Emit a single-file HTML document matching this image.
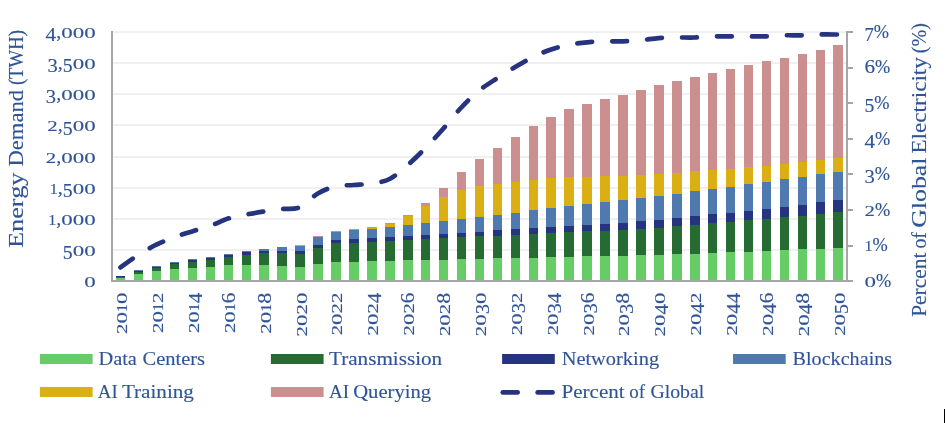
<!DOCTYPE html>
<html><head><meta charset="utf-8"><title>Energy Demand</title>
<style>
html,body{margin:0;padding:0;background:#fff;}
body{width:945px;height:423px;overflow:hidden;position:relative;font-family:"Liberation Serif",serif;}
svg{position:absolute;left:0;top:0;will-change:transform;}
text{font-family:"Liberation Serif",serif;fill:#2f5496;stroke:#2f5496;stroke-width:0.12px;}
text.n{stroke-width:0.15px;}
</style></head><body>
<svg width="945" height="423" viewBox="0 0 945 423">
<rect x="0" y="0" width="945" height="423" fill="#ffffff"/>

<rect x="112" y="249" width="735" height="2" fill="#f0f0f0"/>
<rect x="112" y="218" width="735" height="2" fill="#f0f0f0"/>
<rect x="112" y="187" width="735" height="2" fill="#f0f0f0"/>
<rect x="112" y="156" width="735" height="2" fill="#f0f0f0"/>
<rect x="112" y="124" width="735" height="2" fill="#f0f0f0"/>
<rect x="112" y="93" width="735" height="2" fill="#f0f0f0"/>
<rect x="112" y="62" width="735" height="2" fill="#f0f0f0"/>
<rect x="112" y="31" width="735" height="2" fill="#f0f0f0"/>
<rect x="116.00" y="278.00" width="9.00" height="3.00" fill="#66cc66"/>
<rect x="116.00" y="277.00" width="9.00" height="1.00" fill="#266b32"/>
<rect x="116.00" y="276.00" width="9.00" height="1.00" fill="#263480"/>
<rect x="134.00" y="274.00" width="9.00" height="7.00" fill="#66cc66"/>
<rect x="134.00" y="272.00" width="9.00" height="2.00" fill="#266b32"/>
<rect x="134.00" y="271.00" width="9.00" height="1.00" fill="#263480"/>
<rect x="134.00" y="270.00" width="9.00" height="1.00" fill="#4f7ab0"/>
<rect x="152.00" y="271.00" width="9.00" height="10.00" fill="#66cc66"/>
<rect x="152.00" y="268.00" width="9.00" height="3.00" fill="#266b32"/>
<rect x="152.00" y="267.00" width="9.00" height="1.00" fill="#263480"/>
<rect x="152.00" y="266.00" width="9.00" height="1.00" fill="#4f7ab0"/>
<rect x="170.00" y="269.00" width="9.00" height="12.00" fill="#66cc66"/>
<rect x="170.00" y="264.00" width="9.00" height="5.00" fill="#266b32"/>
<rect x="170.00" y="263.00" width="9.00" height="1.00" fill="#263480"/>
<rect x="170.00" y="262.00" width="9.00" height="1.00" fill="#4f7ab0"/>
<rect x="188.00" y="268.00" width="9.00" height="13.00" fill="#66cc66"/>
<rect x="188.00" y="262.00" width="9.00" height="6.00" fill="#266b32"/>
<rect x="188.00" y="260.00" width="9.00" height="2.00" fill="#263480"/>
<rect x="188.00" y="259.00" width="9.00" height="1.00" fill="#4f7ab0"/>
<rect x="206.00" y="267.00" width="9.00" height="14.00" fill="#66cc66"/>
<rect x="206.00" y="260.00" width="9.00" height="7.00" fill="#266b32"/>
<rect x="206.00" y="258.00" width="9.00" height="2.00" fill="#263480"/>
<rect x="206.00" y="257.00" width="9.00" height="1.00" fill="#4f7ab0"/>
<rect x="224.00" y="265.00" width="9.00" height="16.00" fill="#66cc66"/>
<rect x="224.00" y="257.00" width="9.00" height="8.00" fill="#266b32"/>
<rect x="224.00" y="255.00" width="9.00" height="2.00" fill="#263480"/>
<rect x="224.00" y="254.00" width="9.00" height="1.00" fill="#4f7ab0"/>
<rect x="242.00" y="265.00" width="9.00" height="16.00" fill="#66cc66"/>
<rect x="242.00" y="255.00" width="9.00" height="10.00" fill="#266b32"/>
<rect x="242.00" y="252.00" width="9.00" height="3.00" fill="#263480"/>
<rect x="242.00" y="251.00" width="9.00" height="1.00" fill="#4f7ab0"/>
<rect x="259.00" y="265.00" width="10.00" height="16.00" fill="#66cc66"/>
<rect x="259.00" y="253.00" width="10.00" height="12.00" fill="#266b32"/>
<rect x="259.00" y="251.00" width="10.00" height="2.00" fill="#263480"/>
<rect x="259.00" y="249.00" width="10.00" height="2.00" fill="#4f7ab0"/>
<rect x="277.00" y="266.00" width="10.00" height="15.00" fill="#66cc66"/>
<rect x="277.00" y="253.00" width="10.00" height="13.00" fill="#266b32"/>
<rect x="277.00" y="251.00" width="10.00" height="2.00" fill="#263480"/>
<rect x="277.00" y="247.00" width="10.00" height="4.00" fill="#4f7ab0"/>
<rect x="295.00" y="267.00" width="10.00" height="14.00" fill="#66cc66"/>
<rect x="295.00" y="254.00" width="10.00" height="13.00" fill="#266b32"/>
<rect x="295.00" y="251.00" width="10.00" height="3.00" fill="#263480"/>
<rect x="295.00" y="246.00" width="10.00" height="5.00" fill="#4f7ab0"/>
<rect x="295.00" y="245.00" width="10.00" height="1.00" fill="#daaf14"/>
<rect x="313.00" y="264.00" width="10.00" height="17.00" fill="#66cc66"/>
<rect x="313.00" y="248.00" width="10.00" height="16.00" fill="#266b32"/>
<rect x="313.00" y="245.00" width="10.00" height="3.00" fill="#263480"/>
<rect x="313.00" y="237.00" width="10.00" height="8.00" fill="#4f7ab0"/>
<rect x="313.00" y="236.00" width="10.00" height="1.00" fill="#cb8f8f"/>
<rect x="331.00" y="262.00" width="10.00" height="19.00" fill="#66cc66"/>
<rect x="331.00" y="243.00" width="10.00" height="19.00" fill="#266b32"/>
<rect x="331.00" y="240.00" width="10.00" height="3.00" fill="#263480"/>
<rect x="331.00" y="232.00" width="10.00" height="8.00" fill="#4f7ab0"/>
<rect x="331.00" y="231.00" width="10.00" height="1.00" fill="#cb8f8f"/>
<rect x="349.00" y="262.00" width="10.00" height="19.00" fill="#66cc66"/>
<rect x="349.00" y="243.00" width="10.00" height="19.00" fill="#266b32"/>
<rect x="349.00" y="239.00" width="10.00" height="4.00" fill="#263480"/>
<rect x="349.00" y="230.00" width="10.00" height="9.00" fill="#4f7ab0"/>
<rect x="349.00" y="229.00" width="10.00" height="1.00" fill="#cb8f8f"/>
<rect x="367.00" y="261.00" width="10.00" height="20.00" fill="#66cc66"/>
<rect x="367.00" y="242.00" width="10.00" height="19.00" fill="#266b32"/>
<rect x="367.00" y="238.00" width="10.00" height="4.00" fill="#263480"/>
<rect x="367.00" y="229.00" width="10.00" height="9.00" fill="#4f7ab0"/>
<rect x="367.00" y="228.00" width="10.00" height="1.00" fill="#daaf14"/>
<rect x="367.00" y="227.00" width="10.00" height="1.00" fill="#cb8f8f"/>
<rect x="385.00" y="261.00" width="10.00" height="20.00" fill="#66cc66"/>
<rect x="385.00" y="241.00" width="10.00" height="20.00" fill="#266b32"/>
<rect x="385.00" y="237.00" width="10.00" height="4.00" fill="#263480"/>
<rect x="385.00" y="227.00" width="10.00" height="10.00" fill="#4f7ab0"/>
<rect x="385.00" y="224.00" width="10.00" height="3.00" fill="#daaf14"/>
<rect x="385.00" y="223.00" width="10.00" height="1.00" fill="#cb8f8f"/>
<rect x="403.00" y="260.00" width="10.00" height="21.00" fill="#66cc66"/>
<rect x="403.00" y="240.00" width="10.00" height="20.00" fill="#266b32"/>
<rect x="403.00" y="236.00" width="10.00" height="4.00" fill="#263480"/>
<rect x="403.00" y="225.00" width="10.00" height="11.00" fill="#4f7ab0"/>
<rect x="403.00" y="216.00" width="10.00" height="9.00" fill="#daaf14"/>
<rect x="403.00" y="215.00" width="10.00" height="1.00" fill="#cb8f8f"/>
<rect x="421.00" y="260.00" width="9.00" height="21.00" fill="#66cc66"/>
<rect x="421.00" y="239.00" width="9.00" height="21.00" fill="#266b32"/>
<rect x="421.00" y="235.00" width="9.00" height="4.00" fill="#263480"/>
<rect x="421.00" y="223.00" width="9.00" height="12.00" fill="#4f7ab0"/>
<rect x="421.00" y="206.00" width="9.00" height="17.00" fill="#daaf14"/>
<rect x="421.00" y="203.00" width="9.00" height="3.00" fill="#cb8f8f"/>
<rect x="439.00" y="260.00" width="9.00" height="21.00" fill="#66cc66"/>
<rect x="439.00" y="238.00" width="9.00" height="22.00" fill="#266b32"/>
<rect x="439.00" y="234.00" width="9.00" height="4.00" fill="#263480"/>
<rect x="439.00" y="221.00" width="9.00" height="13.00" fill="#4f7ab0"/>
<rect x="439.00" y="197.00" width="9.00" height="24.00" fill="#daaf14"/>
<rect x="439.00" y="188.00" width="9.00" height="9.00" fill="#cb8f8f"/>
<rect x="457.00" y="259.00" width="9.00" height="22.00" fill="#66cc66"/>
<rect x="457.00" y="237.00" width="9.00" height="22.00" fill="#266b32"/>
<rect x="457.00" y="233.00" width="9.00" height="4.00" fill="#263480"/>
<rect x="457.00" y="219.00" width="9.00" height="14.00" fill="#4f7ab0"/>
<rect x="457.00" y="190.00" width="9.00" height="29.00" fill="#daaf14"/>
<rect x="457.00" y="172.00" width="9.00" height="18.00" fill="#cb8f8f"/>
<rect x="475.00" y="259.00" width="9.00" height="22.00" fill="#66cc66"/>
<rect x="475.00" y="236.00" width="9.00" height="23.00" fill="#266b32"/>
<rect x="475.00" y="232.00" width="9.00" height="4.00" fill="#263480"/>
<rect x="475.00" y="217.00" width="9.00" height="15.00" fill="#4f7ab0"/>
<rect x="475.00" y="186.00" width="9.00" height="31.00" fill="#daaf14"/>
<rect x="475.00" y="159.00" width="9.00" height="27.00" fill="#cb8f8f"/>
<rect x="493.00" y="258.00" width="9.00" height="23.00" fill="#66cc66"/>
<rect x="493.00" y="236.00" width="9.00" height="22.00" fill="#266b32"/>
<rect x="493.00" y="230.00" width="9.00" height="6.00" fill="#263480"/>
<rect x="493.00" y="215.00" width="9.00" height="15.00" fill="#4f7ab0"/>
<rect x="493.00" y="184.00" width="9.00" height="31.00" fill="#daaf14"/>
<rect x="493.00" y="148.00" width="9.00" height="36.00" fill="#cb8f8f"/>
<rect x="511.00" y="258.00" width="9.00" height="23.00" fill="#66cc66"/>
<rect x="511.00" y="235.00" width="9.00" height="23.00" fill="#266b32"/>
<rect x="511.00" y="229.00" width="9.00" height="6.00" fill="#263480"/>
<rect x="511.00" y="213.00" width="9.00" height="16.00" fill="#4f7ab0"/>
<rect x="511.00" y="182.00" width="9.00" height="31.00" fill="#daaf14"/>
<rect x="511.00" y="137.00" width="9.00" height="45.00" fill="#cb8f8f"/>
<rect x="529.00" y="258.00" width="9.00" height="23.00" fill="#66cc66"/>
<rect x="529.00" y="234.00" width="9.00" height="24.00" fill="#266b32"/>
<rect x="529.00" y="228.00" width="9.00" height="6.00" fill="#263480"/>
<rect x="529.00" y="210.00" width="9.00" height="18.00" fill="#4f7ab0"/>
<rect x="529.00" y="180.00" width="9.00" height="30.00" fill="#daaf14"/>
<rect x="529.00" y="126.00" width="9.00" height="54.00" fill="#cb8f8f"/>
<rect x="546.00" y="257.00" width="10.00" height="24.00" fill="#66cc66"/>
<rect x="546.00" y="233.00" width="10.00" height="24.00" fill="#266b32"/>
<rect x="546.00" y="227.00" width="10.00" height="6.00" fill="#263480"/>
<rect x="546.00" y="208.00" width="10.00" height="19.00" fill="#4f7ab0"/>
<rect x="546.00" y="178.00" width="10.00" height="30.00" fill="#daaf14"/>
<rect x="546.00" y="117.00" width="10.00" height="61.00" fill="#cb8f8f"/>
<rect x="564.00" y="257.00" width="10.00" height="24.00" fill="#66cc66"/>
<rect x="564.00" y="232.00" width="10.00" height="25.00" fill="#266b32"/>
<rect x="564.00" y="226.00" width="10.00" height="6.00" fill="#263480"/>
<rect x="564.00" y="206.00" width="10.00" height="20.00" fill="#4f7ab0"/>
<rect x="564.00" y="177.00" width="10.00" height="29.00" fill="#daaf14"/>
<rect x="564.00" y="109.00" width="10.00" height="68.00" fill="#cb8f8f"/>
<rect x="582.00" y="256.00" width="10.00" height="25.00" fill="#66cc66"/>
<rect x="582.00" y="231.00" width="10.00" height="25.00" fill="#266b32"/>
<rect x="582.00" y="225.00" width="10.00" height="6.00" fill="#263480"/>
<rect x="582.00" y="204.00" width="10.00" height="21.00" fill="#4f7ab0"/>
<rect x="582.00" y="177.00" width="10.00" height="27.00" fill="#daaf14"/>
<rect x="582.00" y="104.00" width="10.00" height="73.00" fill="#cb8f8f"/>
<rect x="600.00" y="256.00" width="10.00" height="25.00" fill="#66cc66"/>
<rect x="600.00" y="231.00" width="10.00" height="25.00" fill="#266b32"/>
<rect x="600.00" y="224.00" width="10.00" height="7.00" fill="#263480"/>
<rect x="600.00" y="202.00" width="10.00" height="22.00" fill="#4f7ab0"/>
<rect x="600.00" y="176.00" width="10.00" height="26.00" fill="#daaf14"/>
<rect x="600.00" y="99.00" width="10.00" height="77.00" fill="#cb8f8f"/>
<rect x="618.00" y="256.00" width="10.00" height="25.00" fill="#66cc66"/>
<rect x="618.00" y="230.00" width="10.00" height="26.00" fill="#266b32"/>
<rect x="618.00" y="223.00" width="10.00" height="7.00" fill="#263480"/>
<rect x="618.00" y="200.00" width="10.00" height="23.00" fill="#4f7ab0"/>
<rect x="618.00" y="176.00" width="10.00" height="24.00" fill="#daaf14"/>
<rect x="618.00" y="95.00" width="10.00" height="81.00" fill="#cb8f8f"/>
<rect x="636.00" y="255.00" width="10.00" height="26.00" fill="#66cc66"/>
<rect x="636.00" y="229.00" width="10.00" height="26.00" fill="#266b32"/>
<rect x="636.00" y="221.00" width="10.00" height="8.00" fill="#263480"/>
<rect x="636.00" y="198.00" width="10.00" height="23.00" fill="#4f7ab0"/>
<rect x="636.00" y="175.00" width="10.00" height="23.00" fill="#daaf14"/>
<rect x="636.00" y="90.00" width="10.00" height="85.00" fill="#cb8f8f"/>
<rect x="654.00" y="255.00" width="10.00" height="26.00" fill="#66cc66"/>
<rect x="654.00" y="228.00" width="10.00" height="27.00" fill="#266b32"/>
<rect x="654.00" y="220.00" width="10.00" height="8.00" fill="#263480"/>
<rect x="654.00" y="196.00" width="10.00" height="24.00" fill="#4f7ab0"/>
<rect x="654.00" y="174.00" width="10.00" height="22.00" fill="#daaf14"/>
<rect x="654.00" y="85.00" width="10.00" height="89.00" fill="#cb8f8f"/>
<rect x="672.00" y="254.00" width="10.00" height="27.00" fill="#66cc66"/>
<rect x="672.00" y="226.00" width="10.00" height="28.00" fill="#266b32"/>
<rect x="672.00" y="218.00" width="10.00" height="8.00" fill="#263480"/>
<rect x="672.00" y="194.00" width="10.00" height="24.00" fill="#4f7ab0"/>
<rect x="672.00" y="173.00" width="10.00" height="21.00" fill="#daaf14"/>
<rect x="672.00" y="81.00" width="10.00" height="92.00" fill="#cb8f8f"/>
<rect x="690.00" y="254.00" width="10.00" height="27.00" fill="#66cc66"/>
<rect x="690.00" y="225.00" width="10.00" height="29.00" fill="#266b32"/>
<rect x="690.00" y="216.00" width="10.00" height="9.00" fill="#263480"/>
<rect x="690.00" y="191.00" width="10.00" height="25.00" fill="#4f7ab0"/>
<rect x="690.00" y="171.00" width="10.00" height="20.00" fill="#daaf14"/>
<rect x="690.00" y="77.00" width="10.00" height="94.00" fill="#cb8f8f"/>
<rect x="708.00" y="253.00" width="9.00" height="28.00" fill="#66cc66"/>
<rect x="708.00" y="223.00" width="9.00" height="30.00" fill="#266b32"/>
<rect x="708.00" y="214.00" width="9.00" height="9.00" fill="#263480"/>
<rect x="708.00" y="189.00" width="9.00" height="25.00" fill="#4f7ab0"/>
<rect x="708.00" y="170.00" width="9.00" height="19.00" fill="#daaf14"/>
<rect x="708.00" y="73.00" width="9.00" height="97.00" fill="#cb8f8f"/>
<rect x="726.00" y="252.00" width="9.00" height="29.00" fill="#66cc66"/>
<rect x="726.00" y="222.00" width="9.00" height="30.00" fill="#266b32"/>
<rect x="726.00" y="213.00" width="9.00" height="9.00" fill="#263480"/>
<rect x="726.00" y="187.00" width="9.00" height="26.00" fill="#4f7ab0"/>
<rect x="726.00" y="169.00" width="9.00" height="18.00" fill="#daaf14"/>
<rect x="726.00" y="69.00" width="9.00" height="100.00" fill="#cb8f8f"/>
<rect x="744.00" y="252.00" width="9.00" height="29.00" fill="#66cc66"/>
<rect x="744.00" y="220.00" width="9.00" height="32.00" fill="#266b32"/>
<rect x="744.00" y="211.00" width="9.00" height="9.00" fill="#263480"/>
<rect x="744.00" y="184.00" width="9.00" height="27.00" fill="#4f7ab0"/>
<rect x="744.00" y="167.00" width="9.00" height="17.00" fill="#daaf14"/>
<rect x="744.00" y="65.00" width="9.00" height="102.00" fill="#cb8f8f"/>
<rect x="762.00" y="251.00" width="9.00" height="30.00" fill="#66cc66"/>
<rect x="762.00" y="219.00" width="9.00" height="32.00" fill="#266b32"/>
<rect x="762.00" y="209.00" width="9.00" height="10.00" fill="#263480"/>
<rect x="762.00" y="182.00" width="9.00" height="27.00" fill="#4f7ab0"/>
<rect x="762.00" y="166.00" width="9.00" height="16.00" fill="#daaf14"/>
<rect x="762.00" y="61.00" width="9.00" height="105.00" fill="#cb8f8f"/>
<rect x="780.00" y="250.00" width="9.00" height="31.00" fill="#66cc66"/>
<rect x="780.00" y="217.00" width="9.00" height="33.00" fill="#266b32"/>
<rect x="780.00" y="207.00" width="9.00" height="10.00" fill="#263480"/>
<rect x="780.00" y="179.00" width="9.00" height="28.00" fill="#4f7ab0"/>
<rect x="780.00" y="164.00" width="9.00" height="15.00" fill="#daaf14"/>
<rect x="780.00" y="58.00" width="9.00" height="106.00" fill="#cb8f8f"/>
<rect x="798.00" y="249.00" width="9.00" height="32.00" fill="#66cc66"/>
<rect x="798.00" y="216.00" width="9.00" height="33.00" fill="#266b32"/>
<rect x="798.00" y="205.00" width="9.00" height="11.00" fill="#263480"/>
<rect x="798.00" y="177.00" width="9.00" height="28.00" fill="#4f7ab0"/>
<rect x="798.00" y="162.00" width="9.00" height="15.00" fill="#daaf14"/>
<rect x="798.00" y="54.00" width="9.00" height="108.00" fill="#cb8f8f"/>
<rect x="816.00" y="249.00" width="9.00" height="32.00" fill="#66cc66"/>
<rect x="816.00" y="214.00" width="9.00" height="35.00" fill="#266b32"/>
<rect x="816.00" y="202.00" width="9.00" height="12.00" fill="#263480"/>
<rect x="816.00" y="174.00" width="9.00" height="28.00" fill="#4f7ab0"/>
<rect x="816.00" y="160.00" width="9.00" height="14.00" fill="#daaf14"/>
<rect x="816.00" y="50.00" width="9.00" height="110.00" fill="#cb8f8f"/>
<rect x="833.00" y="248.00" width="10.00" height="33.00" fill="#66cc66"/>
<rect x="833.00" y="212.00" width="10.00" height="36.00" fill="#266b32"/>
<rect x="833.00" y="200.00" width="10.00" height="12.00" fill="#263480"/>
<rect x="833.00" y="172.00" width="10.00" height="28.00" fill="#4f7ab0"/>
<rect x="833.00" y="158.00" width="10.00" height="14.00" fill="#daaf14"/>
<rect x="833.00" y="45.00" width="10.00" height="113.00" fill="#cb8f8f"/>
<rect x="111" y="31" width="2" height="251" fill="#a6a6a6"/>
<rect x="111" y="280" width="737" height="2" fill="#a6a6a6"/>
<rect x="846" y="31" width="2" height="251" fill="#a6a6a6"/>
<rect x="846" y="280" width="7" height="2" fill="#a6a6a6"/>
<rect x="846" y="245" width="7" height="2" fill="#a6a6a6"/>
<rect x="846" y="209" width="7" height="2" fill="#a6a6a6"/>
<rect x="846" y="173" width="7" height="2" fill="#a6a6a6"/>
<rect x="846" y="138" width="7" height="2" fill="#a6a6a6"/>
<rect x="846" y="102" width="7" height="2" fill="#a6a6a6"/>
<rect x="846" y="67" width="7" height="2" fill="#a6a6a6"/>
<rect x="846" y="31" width="7" height="2" fill="#a6a6a6"/>
<path d="M120.50,267.40 C123.49,265.30 132.46,258.58 138.44,254.80 C144.42,251.02 150.40,247.63 156.38,244.70 C162.36,241.77 168.34,239.42 174.32,237.20 C180.30,234.98 186.28,233.28 192.26,231.40 C198.24,229.52 204.22,228.03 210.20,225.90 C216.18,223.77 222.16,220.50 228.14,218.60 C234.12,216.70 240.10,215.68 246.08,214.50 C252.06,213.32 258.04,212.42 264.02,211.50 C270.00,210.58 275.98,209.72 281.96,209.00 C287.94,208.28 293.92,209.78 299.90,207.20 C305.88,204.62 311.86,196.98 317.84,193.50 C323.82,190.02 329.80,187.72 335.78,186.30 C341.76,184.88 347.74,185.47 353.72,185.00 C359.70,184.53 365.68,184.50 371.66,183.50 C377.64,182.50 383.62,182.05 389.60,179.00 C395.58,175.95 401.56,170.37 407.54,165.20 C413.52,160.03 419.50,154.12 425.48,148.00 C431.46,141.88 437.44,135.25 443.42,128.50 C449.40,121.75 455.38,113.85 461.36,107.50 C467.34,101.15 473.32,95.28 479.30,90.40 C485.28,85.52 491.26,82.08 497.24,78.20 C503.22,74.32 509.20,70.63 515.18,67.10 C521.16,63.57 527.14,59.95 533.12,57.00 C539.10,54.05 545.08,51.43 551.06,49.40 C557.04,47.37 563.02,45.98 569.00,44.80 C574.98,43.62 580.96,42.88 586.94,42.30 C592.92,41.72 598.90,41.52 604.88,41.35 C610.86,41.18 616.84,41.49 622.82,41.30 C628.80,41.11 634.78,40.73 640.76,40.20 C646.74,39.67 652.72,38.55 658.70,38.10 C664.68,37.65 670.66,37.60 676.64,37.50 C682.62,37.40 688.60,37.68 694.58,37.50 C700.56,37.32 706.54,36.58 712.52,36.40 C718.50,36.22 724.48,36.40 730.46,36.40 C736.44,36.40 742.42,36.42 748.40,36.40 C754.38,36.38 760.36,36.48 766.34,36.30 C772.32,36.12 778.30,35.47 784.28,35.30 C790.26,35.13 796.24,35.43 802.22,35.30 C808.20,35.17 814.18,34.63 820.16,34.50 C826.14,34.37 835.11,34.50 838.10,34.50" fill="none" stroke="#263480" stroke-width="4.7" stroke-linecap="round" stroke-linejoin="round" stroke-dasharray="14.8 20.18"/>
<text transform="translate(84.14,287.10) scale(1.228,0.806)" font-size="18.67" class="n">0</text>
<text transform="translate(62.82,259.06) scale(1.056,1.036)" font-size="18.67" class="n">5</text>
<text transform="translate(72.67,255.97) scale(1.228,0.806)" font-size="18.67" class="n">0</text>
<text transform="translate(84.14,255.97) scale(1.228,0.806)" font-size="18.67" class="n">0</text>
<text transform="translate(48.14,224.85) scale(0.860,0.806)" font-size="18.67" class="n">1</text>
<text transform="translate(56.17,224.85) scale(1.080,1.000)" font-size="18.67" class="n">,</text>
<text transform="translate(61.21,224.85) scale(1.228,0.806)" font-size="18.67" class="n">0</text>
<text transform="translate(72.67,224.85) scale(1.228,0.806)" font-size="18.67" class="n">0</text>
<text transform="translate(84.14,224.85) scale(1.228,0.806)" font-size="18.67" class="n">0</text>
<text transform="translate(49.75,193.72) scale(0.860,0.806)" font-size="18.67" class="n">1</text>
<text transform="translate(57.77,193.72) scale(1.080,1.000)" font-size="18.67" class="n">,</text>
<text transform="translate(62.82,196.81) scale(1.056,1.036)" font-size="18.67" class="n">5</text>
<text transform="translate(72.67,193.72) scale(1.228,0.806)" font-size="18.67" class="n">0</text>
<text transform="translate(84.14,193.72) scale(1.228,0.806)" font-size="18.67" class="n">0</text>
<text transform="translate(45.73,162.60) scale(1.118,0.806)" font-size="18.67" class="n">2</text>
<text transform="translate(56.17,162.60) scale(1.080,1.000)" font-size="18.67" class="n">,</text>
<text transform="translate(61.21,162.60) scale(1.228,0.806)" font-size="18.67" class="n">0</text>
<text transform="translate(72.67,162.60) scale(1.228,0.806)" font-size="18.67" class="n">0</text>
<text transform="translate(84.14,162.60) scale(1.228,0.806)" font-size="18.67" class="n">0</text>
<text transform="translate(47.34,131.47) scale(1.118,0.806)" font-size="18.67" class="n">2</text>
<text transform="translate(57.77,131.47) scale(1.080,1.000)" font-size="18.67" class="n">,</text>
<text transform="translate(62.82,134.56) scale(1.056,1.036)" font-size="18.67" class="n">5</text>
<text transform="translate(72.67,131.47) scale(1.228,0.806)" font-size="18.67" class="n">0</text>
<text transform="translate(84.14,131.47) scale(1.228,0.806)" font-size="18.67" class="n">0</text>
<text transform="translate(45.86,103.43) scale(1.104,1.036)" font-size="18.67" class="n">3</text>
<text transform="translate(56.17,100.35) scale(1.080,1.000)" font-size="18.67" class="n">,</text>
<text transform="translate(61.21,100.35) scale(1.228,0.806)" font-size="18.67" class="n">0</text>
<text transform="translate(72.67,100.35) scale(1.228,0.806)" font-size="18.67" class="n">0</text>
<text transform="translate(84.14,100.35) scale(1.228,0.806)" font-size="18.67" class="n">0</text>
<text transform="translate(47.47,72.31) scale(1.104,1.036)" font-size="18.67" class="n">3</text>
<text transform="translate(57.77,69.22) scale(1.080,1.000)" font-size="18.67" class="n">,</text>
<text transform="translate(62.82,72.31) scale(1.056,1.036)" font-size="18.67" class="n">5</text>
<text transform="translate(72.67,69.22) scale(1.228,0.806)" font-size="18.67" class="n">0</text>
<text transform="translate(84.14,69.22) scale(1.228,0.806)" font-size="18.67" class="n">0</text>
<text transform="translate(45.62,41.18) scale(1.130,1.036)" font-size="18.67" class="n">4</text>
<text transform="translate(56.17,38.10) scale(1.080,1.000)" font-size="18.67" class="n">,</text>
<text transform="translate(61.21,38.10) scale(1.228,0.806)" font-size="18.67" class="n">0</text>
<text transform="translate(72.67,38.10) scale(1.228,0.806)" font-size="18.67" class="n">0</text>
<text transform="translate(84.14,38.10) scale(1.228,0.806)" font-size="18.67" class="n">0</text>
<text transform="translate(864.50,286.90) scale(1.228,0.806)" font-size="18.67" class="n">0</text>
<text transform="translate(875.96,286.90) scale(0.981,1.040)" font-size="18.67" class="n">%</text>
<text transform="translate(864.50,251.33) scale(0.860,0.806)" font-size="18.67" class="n">1</text>
<text transform="translate(872.53,251.33) scale(0.981,1.040)" font-size="18.67" class="n">%</text>
<text transform="translate(864.50,215.76) scale(1.118,0.806)" font-size="18.67" class="n">2</text>
<text transform="translate(874.94,215.76) scale(0.981,1.040)" font-size="18.67" class="n">%</text>
<text transform="translate(864.50,183.27) scale(1.104,1.036)" font-size="18.67" class="n">3</text>
<text transform="translate(874.81,180.19) scale(0.981,1.040)" font-size="18.67" class="n">%</text>
<text transform="translate(864.50,147.70) scale(1.130,1.036)" font-size="18.67" class="n">4</text>
<text transform="translate(875.05,144.62) scale(0.981,1.040)" font-size="18.67" class="n">%</text>
<text transform="translate(864.50,112.13) scale(1.056,1.036)" font-size="18.67" class="n">5</text>
<text transform="translate(874.36,109.05) scale(0.981,1.040)" font-size="18.67" class="n">%</text>
<text transform="translate(864.50,73.48) scale(1.134,1.036)" font-size="18.67" class="n">6</text>
<text transform="translate(875.09,73.48) scale(0.981,1.040)" font-size="18.67" class="n">%</text>
<text transform="translate(864.50,40.99) scale(1.004,1.036)" font-size="18.67" class="n">7</text>
<text transform="translate(873.87,37.91) scale(0.981,1.040)" font-size="18.67" class="n">%</text>
<text transform="translate(127.10,333.99) rotate(-90) scale(1.118,0.806)" font-size="18.67" class="n">2</text>
<text transform="translate(127.10,323.55) rotate(-90) scale(1.228,0.806)" font-size="18.67" class="n">0</text>
<text transform="translate(127.10,312.09) rotate(-90) scale(0.860,0.806)" font-size="18.67" class="n">1</text>
<text transform="translate(127.10,304.06) rotate(-90) scale(1.228,0.806)" font-size="18.67" class="n">0</text>
<text transform="translate(162.98,332.96) rotate(-90) scale(1.118,0.806)" font-size="18.67" class="n">2</text>
<text transform="translate(162.98,322.53) rotate(-90) scale(1.228,0.806)" font-size="18.67" class="n">0</text>
<text transform="translate(162.98,311.06) rotate(-90) scale(0.860,0.806)" font-size="18.67" class="n">1</text>
<text transform="translate(162.98,303.04) rotate(-90) scale(1.118,0.806)" font-size="18.67" class="n">2</text>
<text transform="translate(198.86,333.08) rotate(-90) scale(1.118,0.806)" font-size="18.67" class="n">2</text>
<text transform="translate(198.86,322.64) rotate(-90) scale(1.228,0.806)" font-size="18.67" class="n">0</text>
<text transform="translate(198.86,311.18) rotate(-90) scale(0.860,0.806)" font-size="18.67" class="n">1</text>
<text transform="translate(201.94,303.15) rotate(-90) scale(1.130,1.036)" font-size="18.67" class="n">4</text>
<text transform="translate(234.74,333.11) rotate(-90) scale(1.118,0.806)" font-size="18.67" class="n">2</text>
<text transform="translate(234.74,322.68) rotate(-90) scale(1.228,0.806)" font-size="18.67" class="n">0</text>
<text transform="translate(234.74,311.21) rotate(-90) scale(0.860,0.806)" font-size="18.67" class="n">1</text>
<text transform="translate(234.74,303.19) rotate(-90) scale(1.134,1.036)" font-size="18.67" class="n">6</text>
<text transform="translate(270.62,333.66) rotate(-90) scale(1.118,0.806)" font-size="18.67" class="n">2</text>
<text transform="translate(270.62,323.22) rotate(-90) scale(1.228,0.806)" font-size="18.67" class="n">0</text>
<text transform="translate(270.62,311.76) rotate(-90) scale(0.860,0.806)" font-size="18.67" class="n">1</text>
<text transform="translate(270.62,303.73) rotate(-90) scale(1.192,1.036)" font-size="18.67" class="n">8</text>
<text transform="translate(306.50,336.40) rotate(-90) scale(1.118,0.806)" font-size="18.67" class="n">2</text>
<text transform="translate(306.50,325.96) rotate(-90) scale(1.228,0.806)" font-size="18.67" class="n">0</text>
<text transform="translate(306.50,314.50) rotate(-90) scale(1.118,0.806)" font-size="18.67" class="n">2</text>
<text transform="translate(306.50,304.06) rotate(-90) scale(1.228,0.806)" font-size="18.67" class="n">0</text>
<text transform="translate(342.38,335.37) rotate(-90) scale(1.118,0.806)" font-size="18.67" class="n">2</text>
<text transform="translate(342.38,324.94) rotate(-90) scale(1.228,0.806)" font-size="18.67" class="n">0</text>
<text transform="translate(342.38,313.47) rotate(-90) scale(1.118,0.806)" font-size="18.67" class="n">2</text>
<text transform="translate(342.38,303.04) rotate(-90) scale(1.118,0.806)" font-size="18.67" class="n">2</text>
<text transform="translate(378.26,335.48) rotate(-90) scale(1.118,0.806)" font-size="18.67" class="n">2</text>
<text transform="translate(378.26,325.05) rotate(-90) scale(1.228,0.806)" font-size="18.67" class="n">0</text>
<text transform="translate(378.26,313.59) rotate(-90) scale(1.118,0.806)" font-size="18.67" class="n">2</text>
<text transform="translate(381.34,303.15) rotate(-90) scale(1.130,1.036)" font-size="18.67" class="n">4</text>
<text transform="translate(414.14,335.52) rotate(-90) scale(1.118,0.806)" font-size="18.67" class="n">2</text>
<text transform="translate(414.14,325.09) rotate(-90) scale(1.228,0.806)" font-size="18.67" class="n">0</text>
<text transform="translate(414.14,313.62) rotate(-90) scale(1.118,0.806)" font-size="18.67" class="n">2</text>
<text transform="translate(414.14,303.19) rotate(-90) scale(1.134,1.036)" font-size="18.67" class="n">6</text>
<text transform="translate(450.02,336.06) rotate(-90) scale(1.118,0.806)" font-size="18.67" class="n">2</text>
<text transform="translate(450.02,325.63) rotate(-90) scale(1.228,0.806)" font-size="18.67" class="n">0</text>
<text transform="translate(450.02,314.16) rotate(-90) scale(1.118,0.806)" font-size="18.67" class="n">2</text>
<text transform="translate(450.02,303.73) rotate(-90) scale(1.192,1.036)" font-size="18.67" class="n">8</text>
<text transform="translate(485.90,336.27) rotate(-90) scale(1.118,0.806)" font-size="18.67" class="n">2</text>
<text transform="translate(485.90,325.83) rotate(-90) scale(1.228,0.806)" font-size="18.67" class="n">0</text>
<text transform="translate(488.98,314.37) rotate(-90) scale(1.104,1.036)" font-size="18.67" class="n">3</text>
<text transform="translate(485.90,304.06) rotate(-90) scale(1.228,0.806)" font-size="18.67" class="n">0</text>
<text transform="translate(521.78,335.24) rotate(-90) scale(1.118,0.806)" font-size="18.67" class="n">2</text>
<text transform="translate(521.78,324.81) rotate(-90) scale(1.228,0.806)" font-size="18.67" class="n">0</text>
<text transform="translate(524.86,313.34) rotate(-90) scale(1.104,1.036)" font-size="18.67" class="n">3</text>
<text transform="translate(521.78,303.04) rotate(-90) scale(1.118,0.806)" font-size="18.67" class="n">2</text>
<text transform="translate(557.66,335.35) rotate(-90) scale(1.118,0.806)" font-size="18.67" class="n">2</text>
<text transform="translate(557.66,324.92) rotate(-90) scale(1.228,0.806)" font-size="18.67" class="n">0</text>
<text transform="translate(560.74,313.45) rotate(-90) scale(1.104,1.036)" font-size="18.67" class="n">3</text>
<text transform="translate(560.74,303.15) rotate(-90) scale(1.130,1.036)" font-size="18.67" class="n">4</text>
<text transform="translate(593.54,335.39) rotate(-90) scale(1.118,0.806)" font-size="18.67" class="n">2</text>
<text transform="translate(593.54,324.96) rotate(-90) scale(1.228,0.806)" font-size="18.67" class="n">0</text>
<text transform="translate(596.62,313.49) rotate(-90) scale(1.104,1.036)" font-size="18.67" class="n">3</text>
<text transform="translate(593.54,303.19) rotate(-90) scale(1.134,1.036)" font-size="18.67" class="n">6</text>
<text transform="translate(629.42,335.93) rotate(-90) scale(1.118,0.806)" font-size="18.67" class="n">2</text>
<text transform="translate(629.42,325.50) rotate(-90) scale(1.228,0.806)" font-size="18.67" class="n">0</text>
<text transform="translate(632.50,314.03) rotate(-90) scale(1.104,1.036)" font-size="18.67" class="n">3</text>
<text transform="translate(629.42,303.73) rotate(-90) scale(1.192,1.036)" font-size="18.67" class="n">8</text>
<text transform="translate(665.30,336.51) rotate(-90) scale(1.118,0.806)" font-size="18.67" class="n">2</text>
<text transform="translate(665.30,326.08) rotate(-90) scale(1.228,0.806)" font-size="18.67" class="n">0</text>
<text transform="translate(668.38,314.61) rotate(-90) scale(1.130,1.036)" font-size="18.67" class="n">4</text>
<text transform="translate(665.30,304.06) rotate(-90) scale(1.228,0.806)" font-size="18.67" class="n">0</text>
<text transform="translate(701.18,335.48) rotate(-90) scale(1.118,0.806)" font-size="18.67" class="n">2</text>
<text transform="translate(701.18,325.05) rotate(-90) scale(1.228,0.806)" font-size="18.67" class="n">0</text>
<text transform="translate(704.26,313.59) rotate(-90) scale(1.130,1.036)" font-size="18.67" class="n">4</text>
<text transform="translate(701.18,303.04) rotate(-90) scale(1.118,0.806)" font-size="18.67" class="n">2</text>
<text transform="translate(737.06,335.60) rotate(-90) scale(1.118,0.806)" font-size="18.67" class="n">2</text>
<text transform="translate(737.06,325.16) rotate(-90) scale(1.228,0.806)" font-size="18.67" class="n">0</text>
<text transform="translate(740.14,313.70) rotate(-90) scale(1.130,1.036)" font-size="18.67" class="n">4</text>
<text transform="translate(740.14,303.15) rotate(-90) scale(1.130,1.036)" font-size="18.67" class="n">4</text>
<text transform="translate(772.94,335.63) rotate(-90) scale(1.118,0.806)" font-size="18.67" class="n">2</text>
<text transform="translate(772.94,325.20) rotate(-90) scale(1.228,0.806)" font-size="18.67" class="n">0</text>
<text transform="translate(776.02,313.73) rotate(-90) scale(1.130,1.036)" font-size="18.67" class="n">4</text>
<text transform="translate(772.94,303.19) rotate(-90) scale(1.134,1.036)" font-size="18.67" class="n">6</text>
<text transform="translate(808.82,336.18) rotate(-90) scale(1.118,0.806)" font-size="18.67" class="n">2</text>
<text transform="translate(808.82,325.74) rotate(-90) scale(1.228,0.806)" font-size="18.67" class="n">0</text>
<text transform="translate(811.90,314.28) rotate(-90) scale(1.130,1.036)" font-size="18.67" class="n">4</text>
<text transform="translate(808.82,303.73) rotate(-90) scale(1.192,1.036)" font-size="18.67" class="n">8</text>
<text transform="translate(844.70,335.82) rotate(-90) scale(1.118,0.806)" font-size="18.67" class="n">2</text>
<text transform="translate(844.70,325.38) rotate(-90) scale(1.228,0.806)" font-size="18.67" class="n">0</text>
<text transform="translate(847.78,313.92) rotate(-90) scale(1.056,1.036)" font-size="18.67" class="n">5</text>
<text transform="translate(844.70,304.06) rotate(-90) scale(1.228,0.806)" font-size="18.67" class="n">0</text>
<text transform="translate(22.70,248.10) rotate(-90)" font-size="21" textLength="75.60" lengthAdjust="spacingAndGlyphs">Energy</text>
<text transform="translate(22.70,166.60) rotate(-90)" font-size="21" textLength="76.70" lengthAdjust="spacingAndGlyphs">Demand</text>
<text transform="translate(22.70,85.10) rotate(-90)" font-size="21" textLength="55.00" lengthAdjust="spacingAndGlyphs">(TWH)</text>
<text transform="translate(926.00,316.80) rotate(-90)" font-size="21" textLength="64.20" lengthAdjust="spacingAndGlyphs">Percent</text>
<text transform="translate(926.00,248.60) rotate(-90)" font-size="21" textLength="16.50" lengthAdjust="spacingAndGlyphs">of</text>
<text transform="translate(926.00,227.80) rotate(-90)" font-size="21" textLength="70.30" lengthAdjust="spacingAndGlyphs">Global</text>
<text transform="translate(926.00,153.60) rotate(-90)" font-size="21" textLength="96.50" lengthAdjust="spacingAndGlyphs">Electricity</text>
<text transform="translate(926.00,53.20) rotate(-90)" font-size="21" textLength="30.20" lengthAdjust="spacingAndGlyphs">(%)</text>
<rect x="39.9" y="354" width="52.7" height="10" fill="#66cc66"/>
<rect x="270.9" y="354" width="52.7" height="10" fill="#266b32"/>
<rect x="502.1" y="354" width="52.7" height="10" fill="#263480"/>
<rect x="733" y="354" width="52.7" height="10" fill="#4f7ab0"/>
<rect x="39.9" y="387" width="52.7" height="10" fill="#daaf14"/>
<rect x="270.9" y="387" width="52.7" height="10" fill="#cb8f8f"/>
<text x="98.50" y="364.70" font-size="19.5" textLength="38.40" lengthAdjust="spacingAndGlyphs">Data</text>
<text x="142.50" y="364.70" font-size="19.5" textLength="62.60" lengthAdjust="spacingAndGlyphs">Centers</text>
<text x="329.00" y="364.70" font-size="19.5" textLength="113.20" lengthAdjust="spacingAndGlyphs">Transmission</text>
<text x="561.70" y="364.70" font-size="19.5" textLength="97.40" lengthAdjust="spacingAndGlyphs">Networking</text>
<text x="792.50" y="364.70" font-size="19.5" textLength="99.70" lengthAdjust="spacingAndGlyphs">Blockchains</text>
<text x="97.80" y="397.60" font-size="19.5" textLength="19.90" lengthAdjust="spacingAndGlyphs">AI</text>
<text x="121.90" y="397.60" font-size="19.5" textLength="72.00" lengthAdjust="spacingAndGlyphs">Training</text>
<text x="329.00" y="397.60" font-size="19.5" textLength="20.10" lengthAdjust="spacingAndGlyphs">AI</text>
<text x="353.20" y="397.60" font-size="19.5" textLength="78.00" lengthAdjust="spacingAndGlyphs">Querying</text>
<text x="561.50" y="397.60" font-size="19.5" textLength="63.20" lengthAdjust="spacingAndGlyphs">Percent</text>
<text x="629.20" y="397.60" font-size="19.5" textLength="15.80" lengthAdjust="spacingAndGlyphs">of</text>
<text x="650.40" y="397.60" font-size="19.5" textLength="53.90" lengthAdjust="spacingAndGlyphs">Global</text>
<line x1="502.8" y1="392.4" x2="517.6" y2="392.4" stroke="#263480" stroke-width="4.8" stroke-linecap="round"/>
<line x1="537.7" y1="392.4" x2="552.5" y2="392.4" stroke="#263480" stroke-width="4.8" stroke-linecap="round"/>
<rect x="944" y="409" width="1" height="14" fill="#000"/>
</svg></body></html>
